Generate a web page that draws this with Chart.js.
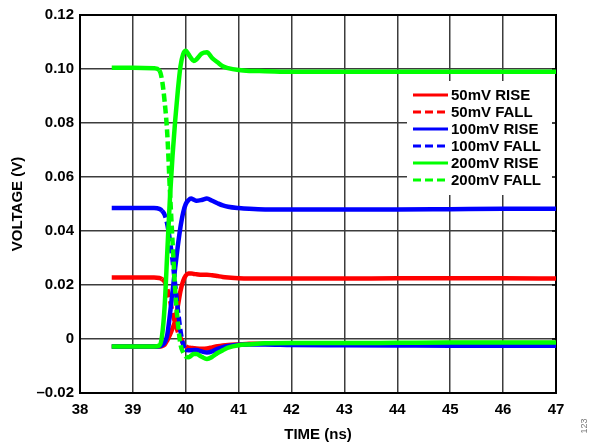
<!DOCTYPE html>
<html>
<head>
<meta charset="utf-8">
<script src="https://cdn.jsdelivr.net/npm/chart.js@4"></script>
<style>
  body { margin: 0; background: #fff; }
  canvas { display: block; }
</style>
</head>
<body>
<canvas id="myChart" width="592" height="444"></canvas>
<script>
// time axis, ns (dense around the edge)
const timeNs = [38.6, 39.0, 39.4, 39.5, 39.55, 39.6, 39.65, 39.7, 39.75, 39.8, 39.85, 39.9, 39.95,
  40.0, 40.05, 40.1, 40.15, 40.2, 40.3, 40.4, 40.5, 40.6, 40.7, 40.8, 41.0, 41.2, 41.5,
  42, 43, 44, 45, 46, 47];

// volts
const rise50 = [-0.0028, -0.0028, -0.0028, -0.0028, -0.0026, -0.0021, -0.0005, 0.0015, 0.004, 0.0068, 0.0122, 0.0178, 0.0215,
  0.0235, 0.0243, 0.0243, 0.0241, 0.024, 0.0238, 0.0238, 0.0236, 0.0233, 0.023, 0.0228, 0.0225, 0.0224, 0.0224,
  0.0224, 0.0224, 0.0225, 0.0225, 0.0225, 0.0224];
const fall50 = [0.0228, 0.0228, 0.0228, 0.0226, 0.0222, 0.0212, 0.0185, 0.0145, 0.0098, 0.0058, 0.0027, 0.0005, -0.0016,
  -0.0027, -0.0032, -0.0033, -0.0034, -0.0035, -0.0036, -0.0035, -0.0031, -0.0027, -0.0024, -0.0022, -0.002, -0.0018, -0.0017,
  -0.0016, -0.0016, -0.0016, -0.0015, -0.0015, -0.0015];
const rise100 = [-0.0028, -0.0028, -0.0028, -0.0027, -0.0023, -0.0013, 0.0015, 0.009, 0.0175, 0.0265, 0.0345, 0.0415, 0.0468,
  0.05, 0.0514, 0.052, 0.0516, 0.0512, 0.0515, 0.052, 0.0512, 0.0503, 0.0495, 0.049, 0.0485, 0.0482, 0.048,
  0.048, 0.048, 0.048, 0.0481, 0.0482, 0.0482];
const fall100 = [0.0485, 0.0485, 0.0485, 0.0482, 0.0475, 0.046, 0.0425, 0.0365, 0.029, 0.02, 0.011, 0.003, -0.002,
  -0.0038, -0.0042, -0.0042, -0.0041, -0.0041, -0.0046, -0.005, -0.0046, -0.0036, -0.003, -0.0026, -0.0021, -0.002, -0.002,
  -0.0022, -0.0023, -0.0024, -0.0025, -0.0025, -0.0025];
const rise200 = [-0.0028, -0.0028, -0.0028, -0.0024, 0.001, 0.012, 0.032, 0.052, 0.068, 0.081, 0.092, 0.101, 0.1055,
  0.1068, 0.1055, 0.104, 0.103, 0.1035, 0.1057, 0.1062, 0.104, 0.1025, 0.101, 0.1003, 0.0996, 0.0993, 0.0992,
  0.099, 0.099, 0.099, 0.099, 0.099, 0.099];
const fall200 = [0.1005, 0.1005, 0.1003, 0.0995, 0.096, 0.088, 0.076, 0.055, 0.036, 0.018, 0.006, -0.002, -0.005,
  -0.0065, -0.0068, -0.0062, -0.0056, -0.0056, -0.0066, -0.0074, -0.0066, -0.0052, -0.0042, -0.0032, -0.0023, -0.002, -0.0016,
  -0.0015, -0.0015, -0.0014, -0.0013, -0.0013, -0.0013];

const seriesLabels = ["50mV RISE", "50mV FALL", "100mV RISE", "100mV FALL", "200mV RISE", "200mV FALL"];

const FONT = "'Liberation Sans', Arial, sans-serif";
const DASH = [8, 4];

function toPoints(values) {
    return timeNs.map(function (t, i) { return { x: t, y: values[i] }; });
}

//noisy scope traces only read as dashed on the steep edge
function steepDash(ctx) {
    const dx = Math.abs(ctx.p1.x - ctx.p0.x);
    const dy = Math.abs(ctx.p1.y - ctx.p0.y);
    return dy > dx ? DASH : [];
}

function makeSet(label, values, color, dashed, order) {
    return {
        label: label,
        data: toPoints(values),
        borderColor: color,
        backgroundColor: color,
        borderWidth: 4.5,
        borderDash: [],
        dashed: dashed,
        segment: dashed ? { borderDash: steepDash } : {},
        borderJoinStyle: 'round',
        pointRadius: 0,
        cubicInterpolationMode: 'monotone',
        fill: false,
        order: order
    };
}

//legend box + frame, drawn by hand inside the plot
const boxPlugin = {
    id: 'boxPlugin',
    beforeDatasetsDraw(chart) {
        const ctx = chart.ctx;
        const a = chart.chartArea;
        ctx.save();
        ctx.fillStyle = '#fff';
        ctx.fillRect(407, 81, a.right - 407, 114);
        // small inward ticks on right edge
        ctx.strokeStyle = '#000';
        ctx.lineWidth = 1.5;
        chart.scales.y.ticks.forEach(function (t) {
            const y = chart.scales.y.getPixelForValue(t.value);
            ctx.beginPath();
            ctx.moveTo(a.right - 4, y);
            ctx.lineTo(a.right, y);
            ctx.stroke();
        });
        ctx.lineWidth = 2;
        ctx.strokeRect(a.left, a.top, a.right - a.left, a.bottom - a.top);
        ctx.restore();
    },
    afterDatasetsDraw(chart) {
        const ctx = chart.ctx;
        ctx.save();
        let y = 95;
        chart.data.datasets.forEach(function (ds) {
            ctx.strokeStyle = ds.borderColor;
            ctx.lineWidth = 3;
            ctx.setLineDash(ds.dashed ? DASH : []);
            ctx.beginPath();
            ctx.moveTo(413, y);
            ctx.lineTo(448, y);
            ctx.stroke();
            ctx.setLineDash([]);
            ctx.fillStyle = '#000';
            ctx.font = 'bold 15px ' + FONT;
            ctx.textAlign = 'left';
            ctx.textBaseline = 'middle';
            ctx.fillText(ds.label, 451, y + 1);
            y += 17;
        });
        // figure number
        ctx.translate(585, 426);
        ctx.rotate(-Math.PI / 2);
        ctx.fillStyle = '#777';
        ctx.font = '9px ' + FONT;
        ctx.textAlign = 'center';
        ctx.fillText('123', 0, 0);
        ctx.restore();
    }
};

const config = {
    type: 'line',
    data: {
        datasets: [
            makeSet(seriesLabels[0], rise50, '#ff0000', false, 5),
            makeSet(seriesLabels[1], fall50, '#ff0000', true, 4),
            makeSet(seriesLabels[2], rise100, '#0000ff', false, 3),
            makeSet(seriesLabels[3], fall100, '#0000ff', true, 2),
            makeSet(seriesLabels[4], rise200, '#00ff00', false, 1),
            makeSet(seriesLabels[5], fall200, '#00ff00', true, 0)
        ]
    },
    options: {
        responsive: false,
        animation: false,
        devicePixelRatio: 1,
        layout: { padding: { top: 12, right: 36, bottom: 0, left: 0 } },
        plugins: {
            legend: { display: false },
            tooltip: { enabled: false }
        },
        scales: {
            x: {
                type: 'linear',
                min: 38,
                max: 47,
                ticks: {
                    stepSize: 1,
                    padding: 8,
                    color: '#000',
                    font: { family: FONT, size: 15, weight: 'bold' }
                },
                grid: { color: '#3c3c3c', lineWidth: 1.5, drawTicks: false },
                border: { display: false },
                title: {
                    display: true,
                    text: 'TIME (ns)',
                    color: '#000',
                    padding: { top: 0, bottom: 0 },
                    font: { family: FONT, size: 15, weight: 'bold' }
                },
                afterFit: function (scale) { scale.height = 51; }
            },
            y: {
                min: -0.02,
                max: 0.12,
                ticks: {
                    stepSize: 0.02,
                    padding: 6,
                    color: '#000',
                    font: { family: FONT, size: 15, weight: 'bold' },
                    callback: function (v) {
                        if (Math.abs(v) < 1e-9) return '0';
                        return v < 0 ? '\u2013' + Math.abs(v).toFixed(2) : v.toFixed(2);
                    }
                },
                grid: { color: '#3c3c3c', lineWidth: 1.5, drawTicks: false },
                border: { display: false },
                title: {
                    display: true,
                    text: 'VOLTAGE (V)',
                    color: '#000',
                    padding: { top: 9, bottom: 0 },
                    font: { family: FONT, size: 15, weight: 'bold' }
                },
                afterFit: function (scale) { scale.width = 80; }
            }
        }
    },
    plugins: [boxPlugin]
};

const renderingChart = new Chart(document.getElementById("myChart").getContext("2d"), config);
</script>
</body>
</html>
